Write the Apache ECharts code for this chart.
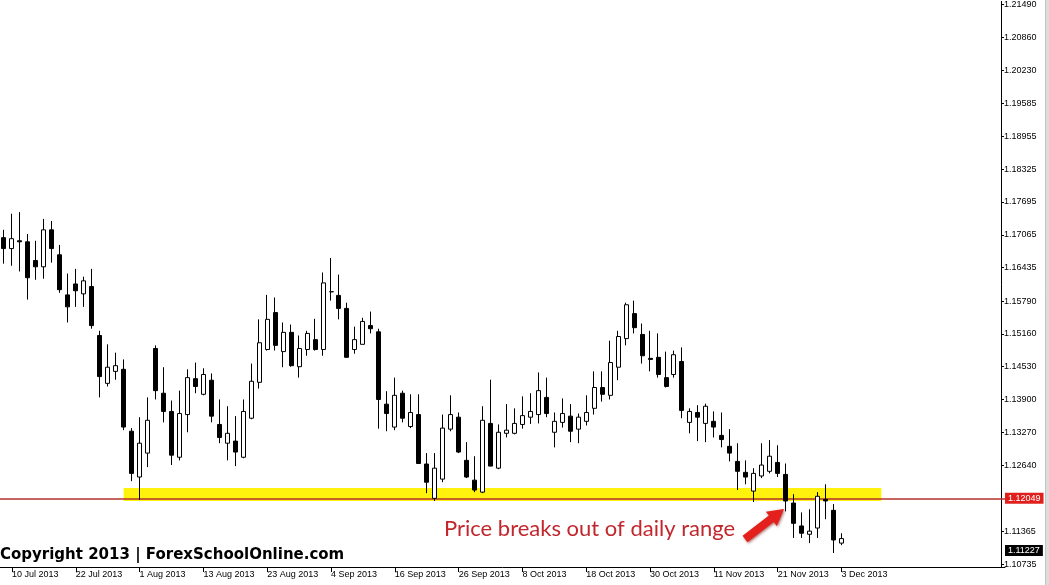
<!DOCTYPE html>
<html>
<head>
<meta charset="utf-8">
<script src="https://cdn.jsdelivr.net/npm/echarts@6/dist/echarts.min.js"></script>
<style>
html,body{margin:0;padding:0;background:#fff;}
#chart{width:1049px;height:585px;}
</style>
</head>
<body>
<div id="chart"></div>
<script>
// Trading days (9 Jul 2013 .. 3 Dec 2013)
const dates = [
 '9 Jul 2013','10 Jul 2013','11 Jul 2013','12 Jul 2013','15 Jul 2013','16 Jul 2013','17 Jul 2013','18 Jul 2013','19 Jul 2013',
 '22 Jul 2013','23 Jul 2013','24 Jul 2013','25 Jul 2013','26 Jul 2013','29 Jul 2013','30 Jul 2013','31 Jul 2013',
 '1 Aug 2013','2 Aug 2013','5 Aug 2013','6 Aug 2013','7 Aug 2013','8 Aug 2013','9 Aug 2013','12 Aug 2013','13 Aug 2013',
 '14 Aug 2013','15 Aug 2013','16 Aug 2013','19 Aug 2013','20 Aug 2013','21 Aug 2013','22 Aug 2013','23 Aug 2013',
 '26 Aug 2013','27 Aug 2013','28 Aug 2013','29 Aug 2013','30 Aug 2013',
 '2 Sep 2013','3 Sep 2013','4 Sep 2013','5 Sep 2013','6 Sep 2013','9 Sep 2013','10 Sep 2013','11 Sep 2013','12 Sep 2013','13 Sep 2013',
 '16 Sep 2013','17 Sep 2013','18 Sep 2013','19 Sep 2013','20 Sep 2013','23 Sep 2013','24 Sep 2013','25 Sep 2013','26 Sep 2013','27 Sep 2013','30 Sep 2013',
 '1 Oct 2013','2 Oct 2013','3 Oct 2013','4 Oct 2013','7 Oct 2013','8 Oct 2013','9 Oct 2013','10 Oct 2013','11 Oct 2013',
 '14 Oct 2013','15 Oct 2013','16 Oct 2013','17 Oct 2013','18 Oct 2013','21 Oct 2013','22 Oct 2013','23 Oct 2013','24 Oct 2013','25 Oct 2013',
 '28 Oct 2013','29 Oct 2013','30 Oct 2013','31 Oct 2013',
 '1 Nov 2013','4 Nov 2013','5 Nov 2013','6 Nov 2013','7 Nov 2013','8 Nov 2013','11 Nov 2013','12 Nov 2013','13 Nov 2013','14 Nov 2013','15 Nov 2013',
 '18 Nov 2013','19 Nov 2013','20 Nov 2013','21 Nov 2013','22 Nov 2013','25 Nov 2013','26 Nov 2013','27 Nov 2013','28 Nov 2013','29 Nov 2013',
 '2 Dec 2013','3 Dec 2013'
];
const futureSlots = ['f1','f2','f3','f4','f5','f6','f7','f8','f9','f10','f11','f12','f13','f14','f15','f16','f17','f18','f19','f20'];

const opens = [
 1.1701,1.1680,1.1695,1.1693,1.1657,1.1645,1.1716,1.1668,1.1591,1.1612,
 1.1593,1.1607,1.1513,1.1421,1.1444,1.1448,1.1329,1.1241,1.1287,1.1488,
 1.1402,1.1367,1.1279,1.1361,1.1430,1.1400,1.1427,1.1342,1.1306,1.1310,
 1.1279,1.1354,1.1423,1.1486,1.1557,1.1482,1.1519,1.1453,1.1486,1.1505,
 1.1486,1.1597,1.1590,1.1565,1.1486,1.1496,1.1532,1.1520,1.1381,1.1337,
 1.1402,1.1338,1.1361,1.1266,1.1200,1.1237,1.1333,1.1356,1.1273,1.1235,
 1.1212,1.1344,1.1258,1.1325,1.1325,1.1342,1.1356,1.1361,1.1394,1.1327,
 1.1346,1.1358,1.1333,1.1348,1.1373,1.1413,1.1398,1.1452,1.1507,1.1555,
 1.1515,1.1469,1.1471,1.1432,1.1438,1.1463,1.1346,1.1365,1.1344,1.1348,
 1.1321,1.1300,1.1271,1.1250,1.1214,1.1243,1.1252,1.1269,1.1246,1.1191,
 1.1147,1.1131,1.1143,1.1198,1.1177,1.1114
];
const highs = [
 1.1716,1.1747,1.1750,1.1708,1.1695,1.1737,1.1733,1.1687,1.1632,1.1641,
 1.1626,1.1641,1.1522,1.1496,1.1480,1.1467,1.1335,1.1356,1.1394,1.1494,
 1.1452,1.1388,1.1407,1.1448,1.1461,1.1450,1.1440,1.1390,1.1377,1.1358,
 1.1390,1.1459,1.1544,1.1591,1.1586,1.1538,1.1534,1.1513,1.1522,1.1545,
 1.1634,1.1662,1.1630,1.1576,1.1530,1.1547,1.1559,1.1526,1.1406,1.1432,
 1.1407,1.1400,1.1400,1.1287,1.1287,1.1361,1.1398,1.1365,1.1308,1.1281,
 1.1377,1.1428,1.1342,1.1381,1.1373,1.1396,1.1402,1.1442,1.1432,1.1365,
 1.1392,1.1381,1.1363,1.1398,1.1444,1.1444,1.1503,1.1522,1.1576,1.1580,
 1.1536,1.1522,1.1517,1.1482,1.1484,1.1490,1.1373,1.1379,1.1382,1.1367,
 1.1365,1.1333,1.1306,1.1273,1.1258,1.1306,1.1312,1.1302,1.1267,1.1208,
 1.1173,1.1179,1.1212,1.1227,1.1189,1.1133
];
const lows = [
 1.1651,1.1647,1.1636,1.1582,1.1620,1.1622,1.1653,1.1595,1.1538,1.1568,
 1.1568,1.1526,1.1394,1.1415,1.1428,1.1331,1.1233,1.1197,1.1260,1.1390,
 1.1346,1.1264,1.1273,1.1327,1.1402,1.1398,1.1346,1.1306,1.1273,1.1262,
 1.1277,1.1352,1.1411,1.1484,1.1484,1.1452,1.1453,1.1432,1.1474,1.1484,
 1.1474,1.1580,1.1544,1.1471,1.1478,1.1496,1.1517,1.1334,1.1329,1.1331,
 1.1346,1.1335,1.1266,1.1210,1.1195,1.1231,1.1329,1.1287,1.1239,1.1212,
 1.1210,1.1262,1.1256,1.1317,1.1323,1.1334,1.1343,1.1344,1.1356,1.1298,
 1.1336,1.1308,1.1306,1.1340,1.1361,1.1386,1.1390,1.1427,1.1494,1.1517,
 1.1459,1.1444,1.1432,1.1413,1.1432,1.1354,1.1325,1.1310,1.1308,1.1317,
 1.1298,1.1271,1.1216,1.1227,1.1193,1.1239,1.1248,1.1241,1.1175,1.1124,
 1.1124,1.1114,1.1124,1.1160,1.1095,1.1110
];
const closes = [
 1.1680,1.1699,1.1693,1.1624,1.1645,1.1716,1.1680,1.1601,1.1568,1.1599,
 1.1618,1.1532,1.1434,1.1452,1.1455,1.1337,1.1248,1.1306,1.1350,1.1407,
 1.1367,1.1283,1.1363,1.1432,1.1415,1.1438,1.1358,1.1317,1.1325,1.1289,
 1.1367,1.1425,1.1499,1.1544,1.1494,1.1519,1.1455,1.1488,1.1517,1.1486,
 1.1614,1.1597,1.1565,1.1471,1.1505,1.1540,1.1526,1.1390,1.1363,1.1398,
 1.1354,1.1365,1.1267,1.1231,1.1258,1.1335,1.1361,1.1289,1.1241,1.1216,
 1.1350,1.1262,1.1327,1.1331,1.1344,1.1359,1.1367,1.1407,1.1363,1.1348,
 1.1363,1.1329,1.1356,1.1365,1.1413,1.1400,1.1461,1.1511,1.1572,1.1528,
 1.1474,1.1467,1.1438,1.1415,1.1476,1.1369,1.1367,1.1356,1.1377,1.1337,
 1.1313,1.1287,1.1252,1.1241,1.1248,1.1264,1.1281,1.1248,1.1195,1.1152,
 1.1133,1.1137,1.1204,1.1195,1.1120,1.11227
];
const yTicks = [1.21490,1.20860,1.20230,1.19585,1.18955,1.18325,1.17695,1.17065,1.16435,1.15790,
 1.15160,1.14530,1.13900,1.13270,1.12640,1.11365,1.10735];
const supportLevel = 1.12049;
const zoneMid = 1.12071;
const zoneStart = 15, zoneEnd = 110;
const lastPrice = 1.11227;
const yMin = 1.10681, yMax = 1.21550;

const categories = dates.concat(futureSlots);
const ohlc = opens.map((o, i) => [o, closes[i], lows[i], highs[i]]);
const lastIdx = dates.length - 1;

const chart = echarts.init(document.getElementById('chart'), null, {renderer: 'canvas'});
chart.setOption({
  animation: false,
  backgroundColor: '#ffffff',
  grid: {left: -3, right: 44, top: 0, bottom: 18, containLabel: false},
  xAxis: {
    type: 'category',
    data: categories,
    boundaryGap: true,
    axisLine: {lineStyle: {color: '#000', width: 1}},
    axisTick: {show: true, alignWithLabel: true, length: 5, lineStyle: {color: '#000'},
      interval: (i) => i <= lastIdx && i % 8 === 1},
    axisLabel: {
      interval: (i) => i <= lastIdx && i % 8 === 1,
      align: 'left', margin: 3,
      color: '#000', fontSize: 9, fontFamily: 'Liberation Sans'
    },
    splitLine: {show: false}
  },
  yAxis: {
    type: 'value',
    position: 'right',
    offset: -4,
    min: yMin, max: yMax,
    scale: true,
    axisLine: {show: true, lineStyle: {color: '#000', width: 1}},
    axisTick: {show: true, length: 3, customValues: yTicks, lineStyle: {color: '#000'}},
    axisLabel: {customValues: yTicks, formatter: (v) => v.toFixed(5), color: '#000',
      fontSize: 9, fontFamily: 'Liberation Sans', margin: 3},
    splitLine: {show: false}
  },
  series: [
  {
    type: 'line',
    data: [],
    z: 1,
    silent: true,
    markLine: {
      silent: true,
      z: 1,
      symbol: ['none', 'none'],
      animation: false,
      data: [
        [{coord: [zoneStart, zoneMid], lineStyle: {color: 'rgba(255,242,0,0.95)', width: 13, type: 'solid', cap: 'butt'}, label: {show: false}},
         {coord: [zoneEnd, zoneMid]}],
        {yAxis: supportLevel,
         lineStyle: {color: '#B3302E', width: 1.5, type: 'solid'},
         label: {show: true, position: 'end', distance: 0, formatter: supportLevel.toFixed(5),
           backgroundColor: '#E0201C', color: '#ffffff', fontSize: 9, fontFamily: 'Liberation Sans',
           padding: [1, 3, 1, 3]}}
      ]
    }
  },
  {
    type: 'candlestick',
    data: ohlc,
    z: 2,
    barWidth: 4.5,
    clip: false,
    itemStyle: {color: '#ffffff', color0: '#000000', borderColor: '#000000', borderColor0: '#000000', borderWidth: 1},
    markLine: {
      silent: true,
      z: 10,
      symbol: ['none', 'none'],
      animation: false,
      data: [
        {yAxis: lastPrice,
         lineStyle: {color: 'rgba(0,0,0,0)', width: 1},
         label: {show: true, position: 'end', distance: 0, formatter: lastPrice.toFixed(5),
           backgroundColor: '#000000', color: '#ffffff', fontSize: 9, fontFamily: 'Liberation Sans',
           padding: [1, 3, 1, 3]}}
      ]
    }
  }],
  graphic: [
    {type: 'rect', shape: {x: 1045, y: 0, width: 4, height: 585}, style: {fill: '#DCDCDC'}, z: 100},
    {type: 'line', shape: {x1: 1045.5, y1: 0, x2: 1045.5, y2: 585}, style: {stroke: '#C4C4C4', lineWidth: 1}, z: 101},
    {type: 'text', z: 100, style: {text: 'Copyright 2013 | ForexSchoolOnline.com', x: 0, y: 555,
      verticalAlign: 'middle', font: 'bold 15px "DejaVu Sans"', fill: '#000'}},
    {type: 'text', z: 100, style: {text: 'Price breaks out of daily range', x: 444, y: 529,
      verticalAlign: 'middle', font: '22px Lato', fill: '#C1272D'}},
    {type: 'polygon', z: 100, shape: {points: [[742.6,535.8],[768.9,515.6],[765.8,511.7],[784,509],[776.8,525.9],[773.7,522.0],[747.4,542.2]]},
      style: {fill: '#E3201B', shadowBlur: 3, shadowColor: 'rgba(120,0,0,0.6)', shadowOffsetX: 1, shadowOffsetY: 1}}
  ]
});
</script>
</body>
</html>
